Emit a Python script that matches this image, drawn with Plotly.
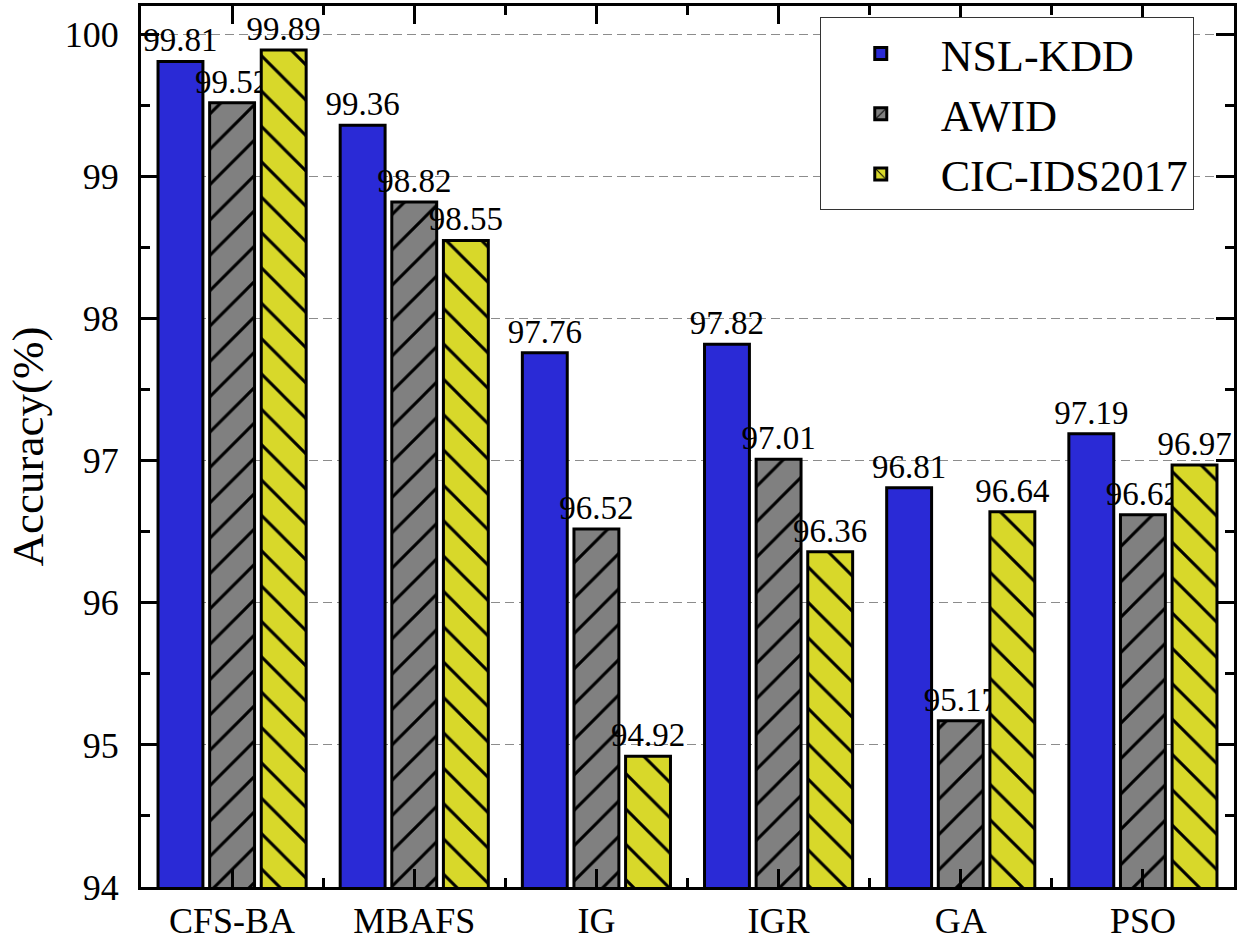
import plotly.graph_objects as go

categories = ["CFS-BA", "MBAFS", "IG", "IGR", "GA", "PSO"]
series_names = ["NSL-KDD", "AWID", "CIC-IDS2017"]
nsl_kdd = [99.81, 99.36, 97.76, 97.82, 96.81, 97.19]
awid = [99.52, 98.82, 96.52, 97.01, 95.17, 96.62]
cic_ids2017 = [99.89, 98.55, 94.92, 96.36, 96.64, 96.97]

colors = ["#2A2AD6", "#808080", "#D8D82A"]
shapes = ["", "/", "\\"]
FONT = "Liberation Serif"

x_idx = list(range(len(categories)))

fig = go.Figure()
for name, vals, col, shp in zip(series_names, [nsl_kdd, awid, cic_ids2017], colors, shapes):
    pattern = dict(shape=shp, fgcolor="black", bgcolor=col, size=25, solidity=0.12, fillmode="replace") if shp else dict(shape="")
    fig.add_trace(go.Bar(
        x=x_idx, y=vals, name=name,
        marker=dict(color=col, line=dict(color="black", width=3), pattern=pattern),
        text=[f"{v:.2f}" for v in vals], textposition="outside",
        textfont=dict(family=FONT, size=33, color="black"),
        constraintext="none", cliponaxis=False,
    ))

fig.update_layout(
    width=1242, height=948,
    margin=dict(l=141, r=8, t=3, b=61),
    paper_bgcolor="white", plot_bgcolor="white",
    barmode="group", bargap=0.15, bargroupgap=0.13,
    font=dict(family=FONT, color="black"),
    showlegend=True,
    legend=dict(
        x=0.621, y=0.987, xanchor="left", yanchor="top",
        bgcolor="white", bordercolor="#333", borderwidth=1,
        font=dict(family=FONT, size=44, color="black"),
        itemwidth=110, tracegroupgap=0,
    ),
)
fig.update_xaxes(
    range=[-0.5, len(categories) - 0.5],
    tickmode="array", tickvals=x_idx, ticktext=categories,
    tickfont=dict(family=FONT, size=36, color="black"),
    ticks="inside", ticklen=18, tickwidth=3, tickcolor="black",
    minor=dict(tickmode="linear", tick0=0.5, dtick=1, ticks="inside", ticklen=9, tickwidth=3, tickcolor="black"),
    showline=True, linewidth=3, linecolor="black", mirror="ticks",
    showgrid=False, zeroline=False,
)
fig.update_yaxes(
    range=[94, 100.2],
    tickmode="linear", tick0=94, dtick=1,
    tickfont=dict(family=FONT, size=36, color="black"),
    ticklabelstandoff=12,
    ticks="inside", ticklen=18, tickwidth=3, tickcolor="black",
    minor=dict(tickmode="linear", tick0=94.5, dtick=1, ticks="inside", ticklen=9, tickwidth=3, tickcolor="black", showgrid=False),
    showline=True, linewidth=3, linecolor="black", mirror="ticks",
    showgrid=True, gridcolor="#8c8c8c", griddash="9px,5px", gridwidth=1.2,
    zeroline=False,
    title=dict(text="Accuracy(%)", font=dict(family=FONT, size=45, color="black"), standoff=8),
)

fig.write_html("out.html")
